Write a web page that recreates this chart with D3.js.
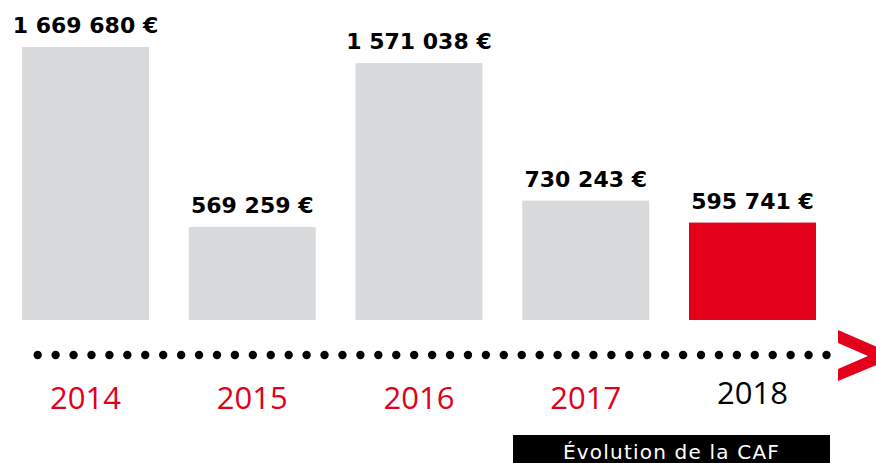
<!DOCTYPE html>
<html>
<head>
<meta charset="utf-8">
<script src="https://cdn.jsdelivr.net/npm/d3@7"></script>
<style>
  html, body { margin: 0; padding: 0; background: #fff; }
  svg { display: block; }
</style>
</head>
<body>
<svg></svg>
<script>
// données du graphique
let years = ["2014", "2015", "2016", "2017", "2018"];
let cafValues = [1669680, 569259, 1571038, 730243, 595741];
let valueLabels = ["1 669 680 €", "569 259 €", "1 571 038 €", "730 243 €", "595 741 €"];
let caption = "Évolution de la CAF";

function drawChart() {
    let width = 876;
    let height = 463;
    let baseY = 320;
    let topY = 47;
    let grey = "#d9dadc";
    let red = "#e2001a";

    let svg = d3.select("svg")
        .attr("width", width)
        .attr("height", height);
    svg.selectAll("*").remove();

    // échelles
    let scaleX = d3.scaleBand()
        .domain(years)
        .range([22, 816])
        .paddingInner(0.2384)
        .paddingOuter(0);
    let scaleY = d3.scaleLinear()
        .domain([0, d3.max(cafValues)])
        .range([baseY, topY]);

    let rows = years.map((y, i) => ({ year: y, value: cafValues[i], label: valueLabels[i] }));
    let last = years[years.length - 1];

    // barres
    svg.selectAll(".bar")
        .data(rows)
        .enter()
        .append("rect")
        .attr("class", "bar")
        .attr("x", d => scaleX(d.year))
        .attr("width", scaleX.bandwidth())
        .attr("y", d => scaleY(d.value))
        .attr("height", d => baseY - scaleY(d.value))
        .attr("fill", d => d.year == last ? red : grey);

    // montants au-dessus des barres
    svg.selectAll(".value")
        .data(rows)
        .enter()
        .append("text")
        .attr("class", "value")
        .attr("x", d => scaleX(d.year) + scaleX.bandwidth() / 2)
        .attr("y", d => scaleY(d.value) - 14)
        .attr("text-anchor", "middle")
        .style("font-family", "'DejaVu Sans', sans-serif")
        .style("font-weight", "bold")
        .style("font-size", "22px")
        .attr("fill", "#000")
        .text(d => d.label);

    // ligne pointillée (axe)
    let dotCount = 45;
    let dotX = d3.scaleLinear().domain([0, dotCount - 1]).range([37.7, 826.5]);
    svg.append("g")
        .selectAll("circle")
        .data(d3.range(dotCount))
        .enter()
        .append("circle")
        .attr("cx", i => dotX(i))
        .attr("cy", 355)
        .attr("r", 4.2)
        .attr("fill", "#000");

    // flèche rouge
    svg.append("path")
        .attr("d", "M838,330 L884,350 L884,362 L838,381 L838,369 L868,356 L838,343 Z")
        .attr("fill", red);

    // années
    svg.selectAll(".year")
        .data(rows)
        .enter()
        .append("text")
        .attr("class", "year")
        .attr("x", d => scaleX(d.year) + scaleX.bandwidth() / 2)
        .attr("y", d => d.year == last ? 404 : 409)
        .attr("text-anchor", "middle")
        .style("font-family", "'Open Sans', sans-serif")
        .style("font-size", "31px")
        .attr("fill", d => d.year == last ? "#000" : red)
        .text(d => d.year);

    // légende
    svg.append("rect")
        .attr("x", 513)
        .attr("y", 435)
        .attr("width", 317)
        .attr("height", 30)
        .attr("fill", "#000");
    svg.append("text")
        .attr("x", 671.5)
        .attr("y", 459)
        .attr("text-anchor", "middle")
        .style("font-family", "'DejaVu Sans', sans-serif")
        .style("font-size", "20px")
        .style("letter-spacing", "1.2px")
        .attr("fill", "#fff")
        .text(caption);
}

drawChart();
</script>
</body>
</html>
